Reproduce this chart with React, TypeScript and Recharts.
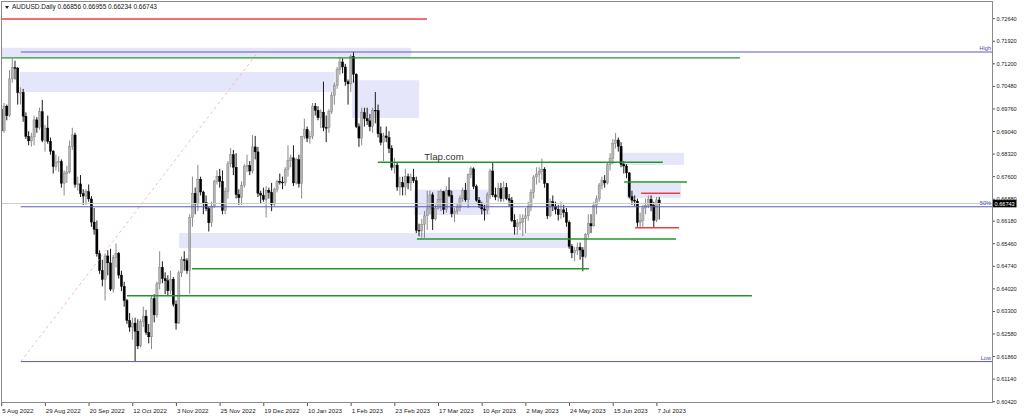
import React from 'react'
import { ComposedChart, Bar, XAxis, YAxis, ReferenceLine, ReferenceArea, ReferenceDot } from 'recharts'

const symbolTitle = 'AUDUSD.Daily'
const siteTag = 'Tlap.com'

// one label every 16 daily bars
const barsPerLabel = 16
const dateLabels = [
  '5 Aug 2022', '29 Aug 2022', '20 Sep 2022', '12 Oct 2022', '3 Nov 2022', '25 Nov 2022',
  '19 Dec 2022', '10 Jan 2023', '1 Feb 2023', '23 Feb 2023', '17 Mar 2023', '10 Apr 2023',
  '2 May 2023', '24 May 2023', '15 Jun 2023', '7 Jul 2023',
]
const priceTicks = [
  0.7264, 0.7192, 0.712, 0.7048, 0.6976, 0.6904, 0.6832, 0.676, 0.6688,
  0.6618, 0.6546, 0.6474, 0.6402, 0.633, 0.6258, 0.6186, 0.6114, 0.6042,
]

const opens = [
  0.6975, 0.6906, 0.6985, 0.6955, 0.7072, 0.7108, 0.7106, 0.7028, 0.7029, 0.6953,
  0.6889, 0.6874, 0.6887, 0.6941, 0.6917, 0.6967, 0.6876, 0.6915, 0.6873, 0.6841,
  0.6792, 0.6806, 0.6808, 0.6739, 0.6770, 0.6775, 0.6856, 0.6893, 0.6735, 0.6737,
  0.6706, 0.6698, 0.6712, 0.6689, 0.6615, 0.6592, 0.6514, 0.6461, 0.6432, 0.6507,
  0.6485, 0.6401, 0.6502, 0.6515, 0.6446, 0.6410, 0.6365, 0.6301, 0.6280, 0.6293,
  0.6267, 0.6220, 0.6297, 0.6315, 0.6263, 0.6249, 0.6371, 0.6319, 0.6418, 0.6471,
  0.6435, 0.6428, 0.6396, 0.6433, 0.6353, 0.6293, 0.6453, 0.6495, 0.6492, 0.6460,
  0.6630, 0.6707, 0.6673, 0.6752, 0.6711, 0.6677, 0.6658, 0.6613, 0.6666, 0.6744,
  0.6761, 0.6745, 0.6652, 0.6713, 0.6801, 0.6830, 0.6790, 0.6703, 0.6693, 0.6733,
  0.6792, 0.6795, 0.6778, 0.6855, 0.6839, 0.6707, 0.6701, 0.6687, 0.6716, 0.6710,
  0.6672, 0.6719, 0.6745, 0.6743, 0.6740, 0.6782, 0.6812, 0.6820, 0.6740, 0.6814,
  0.6738, 0.6888, 0.6911, 0.6883, 0.6889, 0.6985, 0.6972, 0.6948, 0.6966, 0.6917,
  0.6916, 0.6968, 0.7019, 0.7051, 0.7101, 0.7126, 0.7110, 0.7063, 0.7056, 0.7143,
  0.7087, 0.6920, 0.6883, 0.6964, 0.6945, 0.6938, 0.6920, 0.6972, 0.6971, 0.6897,
  0.6870, 0.6890, 0.6885, 0.6850, 0.6790, 0.6797, 0.6727, 0.6741, 0.6727, 0.6760,
  0.6740, 0.6758, 0.6747, 0.6589, 0.6588, 0.6608, 0.6635, 0.6657, 0.6702, 0.6625,
  0.6659, 0.6687, 0.6712, 0.6655, 0.6717, 0.6700, 0.6642, 0.6650, 0.6662, 0.6690,
  0.6717, 0.6686, 0.6766, 0.6785, 0.6729, 0.6685, 0.6670, 0.6657, 0.6653, 0.6702,
  0.6778, 0.6702, 0.6695, 0.6722, 0.6690, 0.6725, 0.6690, 0.6685, 0.6621, 0.6600,
  0.6612, 0.6615, 0.6626, 0.6635, 0.6665, 0.6710, 0.6759, 0.6768, 0.6777, 0.6784,
  0.6738, 0.6635, 0.6680, 0.6666, 0.6656, 0.6639, 0.6654, 0.6646, 0.6614, 0.6538,
  0.6517, 0.6525, 0.6535, 0.6526, 0.6505, 0.6576, 0.6610, 0.6603, 0.6668, 0.6689,
  0.6733, 0.6747, 0.6740, 0.6798, 0.6817, 0.6866, 0.6877, 0.6857, 0.6799, 0.6794,
  0.6772, 0.6696, 0.6685, 0.6682, 0.6614, 0.6620, 0.6660, 0.6668, 0.6688, 0.6668,
  0.6621, 0.66856,
]
const highs = [
  0.6985, 0.6995, 0.6990, 0.7100, 0.7137, 0.7130, 0.7110, 0.7045, 0.7040, 0.6965,
  0.6905, 0.6900, 0.6955, 0.6950, 0.6980, 0.7005, 0.6925, 0.6955, 0.6885, 0.6845,
  0.6830, 0.6825, 0.6815, 0.6780, 0.6795, 0.6875, 0.6916, 0.6900, 0.6760, 0.6765,
  0.6720, 0.6720, 0.6735, 0.6698, 0.6660, 0.6620, 0.6525, 0.6495, 0.6515, 0.6525,
  0.6530, 0.6510, 0.6547, 0.6520, 0.6460, 0.6425, 0.6370, 0.6325, 0.6310, 0.6310,
  0.6305, 0.6305, 0.6345, 0.6335, 0.6290, 0.6380, 0.6385, 0.6425, 0.6522, 0.6490,
  0.6455, 0.6445, 0.6460, 0.6440, 0.6365, 0.6460, 0.6505, 0.6522, 0.6500, 0.6640,
  0.6760, 0.6725, 0.6797, 0.6760, 0.6715, 0.6700, 0.6665, 0.6680, 0.6750, 0.6780,
  0.6785, 0.6780, 0.6725, 0.6810, 0.6851, 0.6845, 0.6835, 0.6720, 0.6745, 0.6800,
  0.6830, 0.6810, 0.6893, 0.6890, 0.6855, 0.6715, 0.6725, 0.6730, 0.6725, 0.6740,
  0.6725, 0.6750, 0.6770, 0.6760, 0.6790, 0.6860, 0.6830, 0.6860, 0.6820, 0.6830,
  0.6890, 0.6945, 0.6920, 0.6905, 0.6995, 0.6995, 0.6985, 0.6975, 0.7063, 0.6955,
  0.6975, 0.7030, 0.7060, 0.7110, 0.7142, 0.7138, 0.7120, 0.7070, 0.7150, 0.7158,
  0.7090, 0.6930, 0.6980, 0.6980, 0.6980, 0.6960, 0.6980, 0.7030, 0.6990, 0.6920,
  0.6900, 0.6920, 0.6905, 0.6860, 0.6820, 0.6805, 0.6760, 0.6760, 0.6785, 0.6770,
  0.6770, 0.6785, 0.6760, 0.6610, 0.6625, 0.6650, 0.6715, 0.6715, 0.6710, 0.6670,
  0.6715, 0.6720, 0.6715, 0.6730, 0.6758, 0.6715, 0.6660, 0.6675, 0.6700, 0.6725,
  0.6740, 0.6770, 0.6793, 0.6790, 0.6735, 0.6695, 0.6680, 0.6670, 0.6710, 0.6785,
  0.6806, 0.6725, 0.6740, 0.6740, 0.6745, 0.6740, 0.6705, 0.6695, 0.6640, 0.6625,
  0.6640, 0.6640, 0.6660, 0.6680, 0.6720, 0.6765, 0.6790, 0.6790, 0.6818, 0.6790,
  0.6740, 0.6690, 0.6700, 0.6680, 0.6670, 0.6680, 0.6670, 0.6660, 0.6620, 0.6545,
  0.6535, 0.6550, 0.6550, 0.6535, 0.6580, 0.6640, 0.6640, 0.6680, 0.6700, 0.6740,
  0.6760, 0.6765, 0.6805, 0.6835, 0.6880, 0.6899, 0.6885, 0.6870, 0.6810, 0.6800,
  0.6775, 0.6715, 0.6700, 0.6690, 0.6645, 0.6670, 0.6690, 0.6700, 0.6700, 0.6680,
  0.6695, 0.66955,
]
const lows = [
  0.6870, 0.6900, 0.6940, 0.6950, 0.7060, 0.7070, 0.6990, 0.6990, 0.6935, 0.6880,
  0.6860, 0.6856, 0.6860, 0.6900, 0.6910, 0.6870, 0.6840, 0.6865, 0.6830, 0.6770,
  0.6780, 0.6775, 0.6725, 0.6700, 0.6740, 0.6770, 0.6845, 0.6725, 0.6715, 0.6695,
  0.6670, 0.6670, 0.6680, 0.6600, 0.6575, 0.6505, 0.6450, 0.6410, 0.6365, 0.6445,
  0.6395, 0.6390, 0.6470, 0.6435, 0.6395, 0.6345, 0.6290, 0.6265, 0.6240, 0.6170,
  0.6210, 0.6215, 0.6280, 0.6255, 0.6228, 0.6210, 0.6295, 0.6310, 0.6400, 0.6420,
  0.6385, 0.6380, 0.6385, 0.6345, 0.6272, 0.6290, 0.6440, 0.6460, 0.6450, 0.6386,
  0.6600, 0.6640, 0.6650, 0.6700, 0.6640, 0.6650, 0.6585, 0.6600, 0.6660, 0.6735,
  0.6725, 0.6640, 0.6640, 0.6690, 0.6790, 0.6765, 0.6690, 0.6670, 0.6670, 0.6725,
  0.6775, 0.6765, 0.6770, 0.6815, 0.6695, 0.6675, 0.6680, 0.6630, 0.6690, 0.6650,
  0.6665, 0.6710, 0.6735, 0.6720, 0.6730, 0.6760, 0.6790, 0.6730, 0.6735, 0.6725,
  0.6690, 0.6880, 0.6870, 0.6865, 0.6880, 0.6955, 0.6940, 0.6915, 0.6905, 0.6870,
  0.6900, 0.6960, 0.6990, 0.7040, 0.7085, 0.7090, 0.7050, 0.6990, 0.7030, 0.7060,
  0.6915, 0.6855, 0.6860, 0.6920, 0.6925, 0.6905, 0.6900, 0.6930, 0.6885, 0.6860,
  0.6810, 0.6870, 0.6835, 0.6780, 0.6770, 0.6715, 0.6700, 0.6700, 0.6700, 0.6720,
  0.6715, 0.6740, 0.6580, 0.6570, 0.6565, 0.6565, 0.6590, 0.6640, 0.6590, 0.6620,
  0.6655, 0.6650, 0.6640, 0.6645, 0.6695, 0.6630, 0.6615, 0.6640, 0.6650, 0.6680,
  0.6680, 0.6660, 0.6755, 0.6720, 0.6680, 0.6660, 0.6640, 0.6620, 0.6640, 0.6690,
  0.6695, 0.6685, 0.6680, 0.6680, 0.6680, 0.6685, 0.6665, 0.6615, 0.6575, 0.6575,
  0.6590, 0.6570, 0.6580, 0.6620, 0.6650, 0.6690, 0.6735, 0.6740, 0.6750, 0.6725,
  0.6625, 0.6630, 0.6650, 0.6640, 0.6620, 0.6625, 0.6630, 0.6600, 0.6530, 0.6500,
  0.6490, 0.6510, 0.6495, 0.6458, 0.6500, 0.6565, 0.6580, 0.6600, 0.6640, 0.6680,
  0.6720, 0.6725, 0.6735, 0.6780, 0.6800, 0.6850, 0.6840, 0.6790, 0.6770, 0.6755,
  0.6690, 0.6670, 0.6665, 0.6600, 0.6595, 0.6600, 0.6640, 0.6660, 0.6650, 0.6599,
  0.6615, 0.66234,
]
const closes = [
  0.6906, 0.6985, 0.6955, 0.7072, 0.7108, 0.7106, 0.7028, 0.7029, 0.6953, 0.6889,
  0.6874, 0.6887, 0.6941, 0.6917, 0.6967, 0.6876, 0.6915, 0.6873, 0.6841, 0.6792,
  0.6806, 0.6808, 0.6739, 0.6770, 0.6775, 0.6856, 0.6893, 0.6735, 0.6737, 0.6706,
  0.6698, 0.6712, 0.6689, 0.6615, 0.6592, 0.6514, 0.6461, 0.6432, 0.6507, 0.6485,
  0.6401, 0.6502, 0.6515, 0.6446, 0.6410, 0.6365, 0.6301, 0.6280, 0.6293, 0.6267,
  0.6220, 0.6297, 0.6315, 0.6263, 0.6249, 0.6371, 0.6319, 0.6418, 0.6471, 0.6435,
  0.6428, 0.6396, 0.6433, 0.6353, 0.6293, 0.6453, 0.6495, 0.6492, 0.6460, 0.6630,
  0.6707, 0.6673, 0.6752, 0.6711, 0.6677, 0.6658, 0.6613, 0.6666, 0.6744, 0.6761,
  0.6745, 0.6652, 0.6713, 0.6801, 0.6830, 0.6790, 0.6703, 0.6693, 0.6733, 0.6792,
  0.6795, 0.6778, 0.6855, 0.6839, 0.6707, 0.6701, 0.6687, 0.6716, 0.6710, 0.6672,
  0.6719, 0.6745, 0.6743, 0.6740, 0.6782, 0.6812, 0.6820, 0.6740, 0.6814, 0.6738,
  0.6888, 0.6911, 0.6883, 0.6889, 0.6985, 0.6972, 0.6948, 0.6966, 0.6917, 0.6916,
  0.6968, 0.7019, 0.7051, 0.7101, 0.7126, 0.7110, 0.7063, 0.7056, 0.7143, 0.7087,
  0.6920, 0.6883, 0.6964, 0.6945, 0.6938, 0.6920, 0.6972, 0.6971, 0.6897, 0.6870,
  0.6890, 0.6885, 0.6850, 0.6790, 0.6797, 0.6727, 0.6741, 0.6727, 0.6760, 0.6740,
  0.6758, 0.6747, 0.6589, 0.6588, 0.6608, 0.6635, 0.6657, 0.6702, 0.6625, 0.6659,
  0.6687, 0.6712, 0.6655, 0.6717, 0.6700, 0.6642, 0.6650, 0.6662, 0.6690, 0.6717,
  0.6686, 0.6766, 0.6785, 0.6729, 0.6685, 0.6670, 0.6657, 0.6653, 0.6702, 0.6778,
  0.6702, 0.6695, 0.6722, 0.6690, 0.6725, 0.6690, 0.6685, 0.6621, 0.6600, 0.6612,
  0.6615, 0.6626, 0.6635, 0.6665, 0.6710, 0.6759, 0.6768, 0.6777, 0.6784, 0.6738,
  0.6635, 0.6680, 0.6666, 0.6656, 0.6639, 0.6654, 0.6646, 0.6614, 0.6538, 0.6517,
  0.6525, 0.6535, 0.6526, 0.6505, 0.6576, 0.6610, 0.6603, 0.6668, 0.6689, 0.6733,
  0.6747, 0.6740, 0.6798, 0.6817, 0.6866, 0.6877, 0.6857, 0.6799, 0.6794, 0.6772,
  0.6696, 0.6685, 0.6682, 0.6614, 0.6620, 0.6660, 0.6668, 0.6688, 0.6668, 0.6621,
  0.6686, 0.66743,
]

// fibonacci: anchored bar index and the two extreme prices
const fibStartBar = 7
const fibHigh = 0.71578
const fibLow = 0.617
const fibTrend = [[7, 0.617], [93.9, 0.71578]]

// drawn objects: [price, fromBar, toBar]
const greenLevels = [
  [0.7139, -0.07, 270.4],
  [0.6806, 137.8, 242.2],
  [0.6743, 228, 251],
  [0.6561, 152.1, 247],
  [0.6466, 69.7, 215.1],
  [0.638, 45.9, 274.8],
]
const redLevels = [
  [0.7263, -0.07, 155.8],
  [0.6707, 234.2, 248.5],
  [0.6597, 232, 248.1],
]
// zones: [fromBar, toBar, lowPrice, highPrice]
const zones = [
  [-0.07, 150, 0.7142, 0.7171],
  [6.7, 122, 0.703, 0.7094],
  [128.3, 152.9, 0.6947, 0.7068],
  [65, 208.2, 0.6532, 0.658],
  [151, 178.9, 0.6638, 0.6718],
  [227.2, 249.9, 0.6797, 0.6836],
  [229, 248.8, 0.6692, 0.674],
]
const tagPoint = [162, 0.68238]

const FONT = '"Liberation Sans", Arial, sans-serif'
const lastIdx = closes.length - 1

const rows = closes.map((c, i) => ({
  idx: i,
  open: opens[i],
  high: highs[i],
  low: lows[i],
  close: c,
  range: [lows[i], highs[i]],
}))

function Candle(props: any) {
  const { x, y, width, height, payload } = props
  if (!payload || !Number.isFinite(y)) return null
  const { open, close, high, low } = payload
  const cx = x + width / 2
  const k = high > low ? height / (high - low) : 0
  const yo = y + (high - open) * k
  const yc = y + (high - close) * k
  const up = close >= open
  const top = Math.min(yo, yc)
  const h = Math.max(Math.abs(yc - yo), 0.8)
  const wick = up ? '#7c7c7c' : '#000'
  return (
    <g>
      <line x1={cx} x2={cx} y1={y} y2={y + height} stroke={wick} strokeWidth={0.9} />
      <rect x={cx - 1.1} y={top} width={2.2} height={h} fill={up ? '#b4b4b4' : '#000'} stroke={wick} strokeWidth={0.4} />
    </g>
  )
}

function DateTick(props: any) {
  const { x, y, payload } = props
  const label = dateLabels[Math.round(payload.value / barsPerLabel)]
  return (
    <g>
      <line x1={x} x2={x} y1={y} y2={y + 3.5} stroke="#555" strokeWidth={1} />
      <text x={x + 0.5} y={y + 10} fontSize={6.2} fontFamily={FONT} fill="#222" textAnchor="start">
        {label}
      </text>
    </g>
  )
}

function PriceTick(props: any) {
  const { x, y, payload } = props
  return (
    <g>
      <line x1={x} x2={x + 2.5} y1={y} y2={y} stroke="#555" strokeWidth={1} />
      <text x={x + 4} y={y + 2} fontSize={5.6} fontFamily={FONT} fill="#222" textAnchor="start">
        {Number(payload.value).toFixed(5)}
      </text>
    </g>
  )
}

function FibLabel({ viewBox, text }: any) {
  if (!viewBox) return null
  return (
    <text x={viewBox.x + viewBox.width - 1.5} y={viewBox.y - 2} fontSize={5.6} fontFamily={FONT} fill="#4646b4" textAnchor="end">
      {text}
    </text>
  )
}

function BidLabel({ viewBox }: any) {
  if (!viewBox) return null
  const x0 = viewBox.x + viewBox.width + 0.5
  return (
    <g>
      <rect x={x0} y={viewBox.y - 3.8} width={23.5} height={7.6} fill="#000" />
      <text x={x0 + 1.5} y={viewBox.y + 2} fontSize={5.6} fontFamily={FONT} fill="#fff">
        {closes[lastIdx].toFixed(5)}
      </text>
    </g>
  )
}

export default function App() {
  const dateTicks = dateLabels.map((_, k) => k * barsPerLabel)
  const header = [opens[lastIdx], highs[lastIdx], lows[lastIdx], closes[lastIdx]].map((v) => v.toFixed(5)).join(' ')
  return (
    <div style={{ position: 'absolute', left: 0, top: 0, width: 1024, height: 418, background: '#fff', overflow: 'hidden' }}>
      <ComposedChart width={1024} height={418} data={rows} margin={{ top: 1.5, right: 0, bottom: 0, left: 1.5 }}>
        <XAxis
          type="number"
          dataKey="idx"
          domain={[-0.07, 362.93]}
          allowDataOverflow
          ticks={dateTicks}
          interval={0}
          height={15.5}
          axisLine={false}
          tickLine={false}
          tickSize={0}
          tickMargin={0}
          tick={<DateTick />}
        />
        <YAxis
          orientation="right"
          type="number"
          domain={[0.60394, 0.73189]}
          allowDataOverflow
          ticks={priceTicks}
          interval={0}
          width={31.5}
          axisLine={false}
          tickLine={false}
          tickSize={0}
          tickMargin={0}
          tick={<PriceTick />}
        />
        {zones.map(([a, b, lo, hi], k) => (
          <ReferenceArea key={'z' + k} x1={a} x2={b} y1={lo} y2={hi} fill="#e6e6fa" fillOpacity={1} stroke="none" />
        ))}
        <ReferenceLine
          segment={[{ x: fibTrend[0][0], y: fibTrend[0][1] }, { x: fibTrend[1][0], y: fibTrend[1][1] }]}
          stroke="#f2a9b2"
          strokeWidth={0.8}
          strokeDasharray="3 3"
        />
        <ReferenceLine y={closes[lastIdx]} stroke="#cfcfcf" strokeWidth={1} label={<BidLabel />} />
        <ReferenceLine
          segment={[{ x: fibStartBar, y: fibHigh }, { x: 362.93, y: fibHigh }]}
          stroke="#5a5ac0"
          strokeWidth={1}
          label={<FibLabel text="High" />}
        />
        <ReferenceLine
          segment={[{ x: fibStartBar, y: (fibHigh + fibLow) / 2 }, { x: 362.93, y: (fibHigh + fibLow) / 2 }]}
          stroke="#5a5ac0"
          strokeWidth={1}
          label={<FibLabel text="50%" />}
        />
        <ReferenceLine
          segment={[{ x: fibStartBar, y: fibLow }, { x: 362.93, y: fibLow }]}
          stroke="#5a5ac0"
          strokeWidth={1}
          label={<FibLabel text="Low" />}
        />
        <Bar dataKey="range" barSize={2} isAnimationActive={false} shape={(p: any) => <Candle {...p} />} />
        {greenLevels.map(([p, a, b], k) => (
          <ReferenceLine key={'g' + k} segment={[{ x: a, y: p }, { x: b, y: p }]} stroke="#23962a" strokeWidth={1.4} />
        ))}
        {redLevels.map(([p, a, b], k) => (
          <ReferenceLine key={'r' + k} segment={[{ x: a, y: p }, { x: b, y: p }]} stroke="#ef3e3e" strokeWidth={1.4} />
        ))}
        <ReferenceDot
          x={tagPoint[0]}
          y={tagPoint[1]}
          r={0}
          fill="none"
          stroke="none"
          label={{ value: siteTag, position: 'center', fontSize: 9.6, fontFamily: FONT, fill: '#333' }}
        />
      </ComposedChart>
      <div
        style={{
          position: 'absolute', left: 1, top: 1, width: 992, height: 402,
          boxSizing: 'border-box', border: '1px solid #8a8a8a', pointerEvents: 'none',
        }}
      />
      <div
        style={{
          position: 'absolute', left: 5, top: 3, fontFamily: FONT, fontSize: 6.5, lineHeight: '8px',
          color: '#111', whiteSpace: 'nowrap',
        }}
      >
        <svg width={4} height={3} style={{ marginRight: 3, verticalAlign: 'middle' }}>
          <polygon points="0,0 4,0 2,3" fill="#222" />
        </svg>
        {symbolTitle} {header}
      </div>
    </div>
  )
}
